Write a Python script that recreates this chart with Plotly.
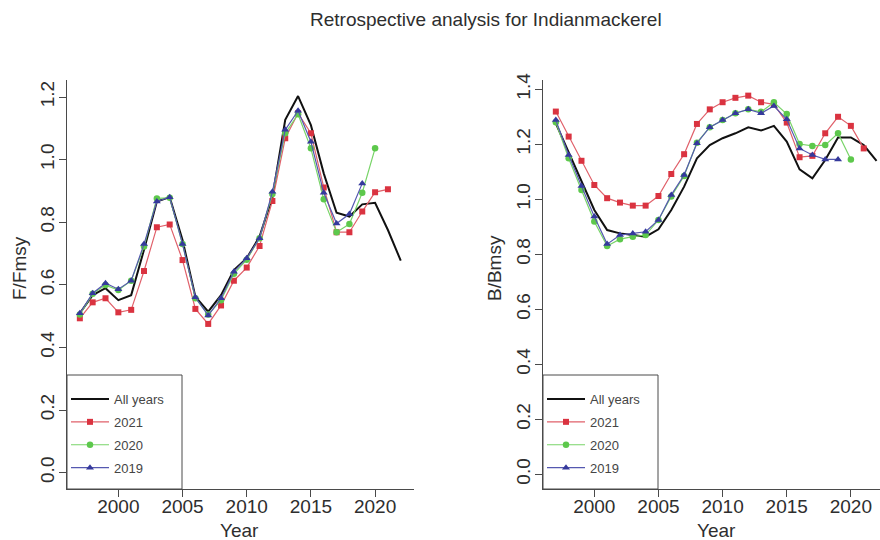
import plotly.graph_objects as go

# ---------------- data ----------------
years_all = list(range(1997, 2023))
years_2021 = list(range(1997, 2022))
years_2020 = list(range(1997, 2021))
years_2019 = list(range(1997, 2020))

# F/Fmsy
f_all = [0.509, 0.567, 0.589, 0.551, 0.567, 0.712, 0.866, 0.880, 0.743, 0.562, 0.514,
         0.567, 0.647, 0.685, 0.754, 0.880, 1.127, 1.203, 1.110, 0.956, 0.830, 0.818,
         0.857, 0.862, 0.775, 0.677]
f_2021 = [0.493, 0.544, 0.557, 0.512, 0.520, 0.644, 0.784, 0.793, 0.679, 0.523, 0.475,
          0.534, 0.613, 0.655, 0.724, 0.868, 1.068, 1.148, 1.084, 0.911, 0.768, 0.768,
          0.834, 0.896, 0.905]
f_2020 = [0.505, 0.571, 0.599, 0.583, 0.613, 0.722, 0.876, 0.878, 0.730, 0.557, 0.505,
          0.551, 0.635, 0.680, 0.749, 0.890, 1.084, 1.145, 1.036, 0.873, 0.768, 0.794,
          0.894, 1.036]
f_2019 = [0.509, 0.573, 0.605, 0.586, 0.613, 0.730, 0.866, 0.880, 0.730, 0.560, 0.502,
          0.557, 0.642, 0.685, 0.749, 0.897, 1.095, 1.156, 1.057, 0.894, 0.796, 0.826,
          0.924]

# B/Bmsy
b_all = [1.276, 1.173, 1.070, 0.961, 0.888, 0.876, 0.870, 0.864, 0.891, 0.961, 1.046,
         1.149, 1.197, 1.222, 1.240, 1.262, 1.250, 1.267, 1.210, 1.109, 1.076, 1.143,
         1.225, 1.225, 1.197, 1.140]
b_2021 = [1.319, 1.228, 1.140, 1.052, 1.004, 0.988, 0.977, 0.977, 1.012, 1.092, 1.164,
          1.274, 1.327, 1.353, 1.369, 1.377, 1.353, 1.345, 1.279, 1.153, 1.158, 1.240,
          1.300, 1.267, 1.185]
b_2020 = [1.280, 1.149, 1.034, 0.919, 0.830, 0.855, 0.864, 0.870, 0.925, 1.010, 1.085,
          1.206, 1.262, 1.288, 1.313, 1.327, 1.318, 1.353, 1.310, 1.201, 1.194, 1.197,
          1.240, 1.145]
b_2019 = [1.288, 1.161, 1.048, 0.937, 0.837, 0.870, 0.876, 0.882, 0.925, 1.016, 1.088,
          1.204, 1.262, 1.288, 1.313, 1.327, 1.313, 1.339, 1.291, 1.185, 1.161, 1.145,
          1.145]

series_names = ["All years", "2021", "2020", "2019"]
x_ticks = [2000, 2005, 2010, 2015, 2020]
f_ticks = [0.0, 0.2, 0.4, 0.6, 0.8, 1.0, 1.2]
b_ticks = [0.0, 0.2, 0.4, 0.6, 0.8, 1.0, 1.2, 1.4]

title_text = "Retrospective analysis for Indianmackerel"

# ---------------- styling ----------------
W, H = 880, 540
FONT = "Liberation Sans, Arial, Helvetica, sans-serif"
TXT = "#2e2e2e"
AX = "#4a4a4a"
colors = {"All years": "#111111", "2021": "#DA3340", "2020": "#5DC84C", "2019": "#35399C"}
line_colors = {"All years": "#111111", "2021": "#E0606A", "2020": "#78D468", "2019": "#5558B0"}
symbols = {"2021": "square", "2020": "circle", "2019": "triangle-up"}
msize = {"2021": 6, "2020": 6.5, "2019": 7}

def px_x(p):
    return p / W

def px_y(p):
    return (H - p) / H

fig = go.Figure()

panels = [
    ("x", "y", "legend", [(years_all, f_all), (years_2021, f_2021), (years_2020, f_2020), (years_2019, f_2019)]),
    ("x2", "y2", "legend2", [(years_all, b_all), (years_2021, b_2021), (years_2020, b_2020), (years_2019, b_2019)]),
]

for xa, ya, lg, data in panels:
    for name, (xs, ys) in zip(series_names, data):
        if name == "All years":
            fig.add_trace(go.Scatter(
                x=xs, y=ys, mode="lines", name=name,
                line=dict(color=colors[name], width=2),
                xaxis=xa, yaxis=ya, legend=lg, legendgroup=lg + name,
            ))
        else:
            fig.add_trace(go.Scatter(
                x=xs, y=ys, mode="lines+markers", name=name,
                line=dict(color=line_colors[name], width=1.2),
                marker=dict(color=colors[name], symbol=symbols[name], size=msize[name]),
                xaxis=xa, yaxis=ya, legend=lg, legendgroup=lg + name,
            ))

axis_common = dict(
    showline=True, linecolor=AX, linewidth=1,
    ticks="outside", ticklen=7, tickcolor=AX, tickwidth=1,
    showgrid=False, zeroline=False, automargin=False,
    tickfont=dict(family=FONT, size=19, color=TXT),
)

plot_top, plot_bot = 80, 489

legend_common = dict(
    font=dict(family=FONT, size=13, color="#454545"),
    bgcolor="rgba(0,0,0,0)", borderwidth=0,
    itemwidth=38, tracegroupgap=3,
    xanchor="left", yanchor="top",
    traceorder="grouped",
)

fig.update_layout(
    width=W, height=H,
    margin=dict(l=0, r=0, t=0, b=0),
    paper_bgcolor="white", plot_bgcolor="white",
    showlegend=True,
    xaxis=dict(domain=[px_x(67), px_x(413.6)], range=[1996, 2023],
               tickvals=x_ticks, anchor="y", ticklabelstandoff=-7, **axis_common),
    yaxis=dict(domain=[px_y(plot_bot), px_y(plot_top)], range=[-0.0524, 1.2543],
               tickvals=f_ticks, tickformat=".1f", tickangle=-90, anchor="x",
               ticklabelstandoff=-3, **axis_common),
    xaxis2=dict(domain=[px_x(543), 1.0], range=[1996, 2022.27],
                tickvals=x_ticks, anchor="y2", ticklabelstandoff=-7, **axis_common),
    yaxis2=dict(domain=[px_y(plot_bot), px_y(plot_top)], range=[-0.0535, 1.4338],
                tickvals=b_ticks, tickformat=".1f", tickangle=-90, anchor="x2",
                ticklabelstandoff=-3, **axis_common),
    legend=dict(x=px_x(66), y=px_y(384), **legend_common),
    legend2=dict(x=px_x(542), y=px_y(384), **legend_common),
)

# legend boxes
for x0, x1 in [(67, 182), (543, 658)]:
    fig.add_shape(type="rect", xref="paper", yref="paper",
                  x0=px_x(x0), x1=px_x(x1), y0=px_y(489), y1=px_y(375),
                  line=dict(color=AX, width=1), fillcolor="rgba(0,0,0,0)", layer="above")

# titles / axis labels
ann = [
    dict(text=title_text, x=px_x(485.5), y=px_y(19), size=19, angle=0),
    dict(text="F/Fmsy", x=px_x(19), y=px_y(268), size=19, angle=-90),
    dict(text="B/Bmsy", x=px_x(494), y=px_y(268), size=19, angle=-90),
    dict(text="Year", x=px_x(240), y=px_y(530), size=19, angle=0),
    dict(text="Year", x=px_x(716), y=px_y(530), size=19, angle=0),
]
for a in ann:
    fig.add_annotation(text=a["text"], x=a["x"], y=a["y"], xref="paper", yref="paper",
                       xanchor="center", yanchor="middle", showarrow=False,
                       textangle=a["angle"], font=dict(family=FONT, size=a["size"], color=TXT))

fig.write_html("out.html")
